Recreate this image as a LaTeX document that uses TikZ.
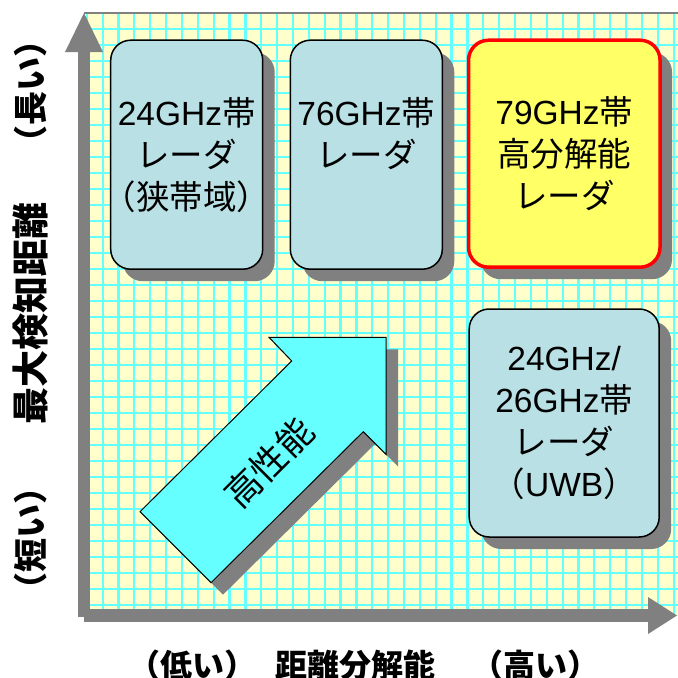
\documentclass[tikz,border=0pt]{standalone}
\usepackage{fontspec}
\setmainfont{Liberation Sans}
\newfontfamily\jp{Noto Sans CJK JP}
\usetikzlibrary{shadows}
\definecolor{gridbg}{RGB}{255,255,204}
\definecolor{gridln}{RGB}{102,255,255}
\definecolor{boxfill}{RGB}{185,224,228}
\definecolor{shadowgray}{RGB}{128,128,128}
\definecolor{hiyellow}{RGB}{255,255,102}
\definecolor{arrowfill}{RGB}{102,255,255}
\begin{document}
\begin{tikzpicture}[x=1pt,y=-1pt,
  radarbox/.style={draw=black, line width=1.5pt, rounded corners=20pt, fill=boxfill, inner sep=0pt,
    drop shadow={shadow xshift=12pt, shadow yshift=-12pt, opacity=1, fill=shadowgray}},
  hibox/.style={radarbox, draw=red, line width=3.5pt, fill=hiyellow},
  boxtext/.style={align=center, inner sep=0pt, font=\fontsize{33.5pt}{42pt}\selectfont},
  axlab/.style={inner sep=0pt, font=\jp\bfseries\fontsize{32pt}{36pt}\selectfont},
  ylab/.style={inner sep=0pt, rotate=90, font=\jp\bfseries\fontsize{34pt}{38pt}\selectfont},
  gridline/.style={draw=gridln, line width=2.2pt},
  axisfill/.style={fill=shadowgray}]
\useasboundingbox (0,0) rectangle (678,678);
% grid
\fill[gridbg] (84,13) rectangle (678,615);
\begin{scope}
  \clip (84,13) rectangle (678,615);
  \foreach \i in {0,...,37} \draw[gridline] ({86.8+15.86*\i},13) -- ({86.8+15.86*\i},615);
  \foreach \j in {0,...,37} \draw[gridline] (84,{13+16*\j}) -- (678,{13+16*\j});
\end{scope}
\draw[shadowgray, line width=1.5pt] (84,13) -- (678,13);
% boxes
\node[radarbox, minimum width=152pt, minimum height=229pt] (b1) at (186.7,154.7) {};
\node[radarbox, minimum width=152pt, minimum height=229pt] (b2) at (366.3,154.7) {};
\node[hibox, minimum width=191.5pt, minimum height=227pt] (b3) at (564.3,153.7) {};
\node[radarbox, minimum width=190pt, minimum height=228pt] (b4) at (564.2,423) {};
\node[boxtext] (t1) at (b1.center) {24GHz{\jp 帯}\\{\jp レーダ}\\{\jp （狭帯域）}};
\node[boxtext] (t2) at (b2.center) {76GHz{\jp 帯}\\{\jp レーダ}\\{\jp\phantom{（狭帯域）}}};
\node[boxtext] (t3) at (b3.center) {79GHz{\jp 帯}\\{\jp 高分解能}\\{\jp レーダ}};
\node[boxtext] (t4) at (b4.center) {24GHz/\\26GHz{\jp 帯}\\{\jp レーダ}\\{\jp （}UWB{\jp ）}};
% big arrow
\fill[shadowgray, shift={(12,12)}] (140,511.7) -- (211,582.7) -- (363.3,431.7) -- (386,454.3) -- (386,337.3) -- (269,337.3) -- (291.7,361) -- cycle;
\draw[fill=arrowfill, line width=1pt] (140,511.7) -- (211,582.7) -- (363.3,431.7) -- (386,454.3) -- (386,337.3) -- (269,337.3) -- (291.7,361) -- cycle;
\node[rotate=45, inner sep=0pt, font=\jp\fontsize{36pt}{40pt}\selectfont] (perf) at (269,463) {高性能};
% axes
\fill[axisfill] (78,617) rectangle (90,50);
\fill[axisfill] (65,52) -- (84,13) -- (103,52) -- cycle;
\fill[axisfill] (84,609) rectangle (649,622);
\fill[axisfill] (648,597) -- (677,615.5) -- (648,634) -- cycle;
% axis labels
\node[ylab] (ylong) at (31,91) {（長い）};
\node[ylab, font=\jp\bfseries\fontsize{37pt}{40pt}\selectfont] (ytitle) at (31,313) {最大検知距離};
\node[ylab] (yshort) at (31,538) {（短い）};
\node[axlab] (xlow) at (192,665) {（低い）};
\node[axlab] (xtitle) at (355,665) {距離分解能};
\node[axlab] (xhigh) at (535,665) {（高い）};
\end{tikzpicture}
\end{document}
